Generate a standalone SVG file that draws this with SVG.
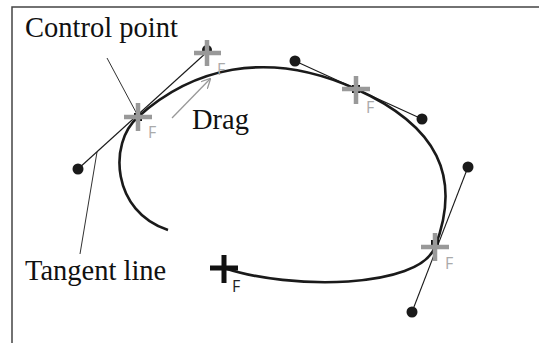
<svg xmlns="http://www.w3.org/2000/svg" width="539" height="343" viewBox="0 0 539 343">
<defs>
<style>
.frame{fill:none;stroke:#444;stroke-width:1.5}
.curve{fill:none;stroke:#1a1a1a;stroke-width:2.6}
.tan{fill:none;stroke:#1a1a1a;stroke-width:1.1}
.lead{fill:none;stroke:#1a1a1a;stroke-width:0.9}
.dot{fill:#1a1a1a}
.gx{stroke:#999;stroke-width:4.5;fill:none}
.bx{stroke:#111;stroke-width:5;fill:none}
.lbl{font-family:"Liberation Serif","Times New Roman",serif;font-size:28.5px;fill:#111}
.f{font-family:"Open Sans","DejaVu Sans",sans-serif;font-size:16px;fill:#aaa}
.fb{font-family:"Open Sans","DejaVu Sans",sans-serif;font-size:16px;fill:#222}
.drag{stroke:#999;stroke-width:1.3;fill:none}
</style>
<marker id="ah" viewBox="0 0 10 10" refX="9" refY="5" markerWidth="10" markerHeight="10" markerUnits="userSpaceOnUse" orient="auto">
<path d="M0,0 L10,5 L0,10" fill="none" stroke="#999" stroke-width="1.3"/>
</marker>
</defs>
<path class="frame" d="M12,343 V7 H539"/>
<g id="connectors">
<path class="curve" d="M168,230 C112,212 108,143 138,117 C190,70 265,47.5 356,89 C438,126 462,177 435,247 C419,289 290,290 224,268"/>
<line class="tan" x1="78" y1="169" x2="207" y2="52"/>
<line class="tan" x1="295" y1="61" x2="422" y2="119"/>
<line class="tan" x1="468" y1="167" x2="412" y2="312"/>
<line class="lead" x1="107" y1="58" x2="138" y2="116"/>
<line class="lead" x1="97" y1="152" x2="80" y2="254"/>
<line class="drag" x1="172" y1="118" x2="210" y2="79" marker-end="url(#ah)"/>
</g>
<g id="anchor1">
<rect x="134" y="113" width="8" height="8" fill="#111"/>
<path class="gx" d="M124,117 H152 M138,103 V131"/>
<text class="f" x="148" y="138">F</text>
</g>
<g id="ctrl1">
<circle class="dot" cx="207" cy="50" r="5"/>
<path class="gx" d="M194,53 H221 M207,40 V66"/>
<text class="f" x="217" y="75">F</text>
</g>
<g id="dot1"><circle class="dot" cx="78" cy="169" r="5.5"/></g>
<g id="anchor2">
<rect x="352" y="85" width="8" height="8" fill="#111"/>
<path class="gx" d="M342,89 H370 M356,76 V104"/>
<text class="f" x="366" y="113">F</text>
</g>
<g id="dot2"><circle class="dot" cx="295" cy="61" r="5.5"/></g>
<g id="dot3"><circle class="dot" cx="422" cy="119" r="5.5"/></g>
<g id="anchor3">
<rect x="431" y="240" width="8" height="8" fill="#111"/>
<path class="gx" d="M421,247 H449 M435,233 V261"/>
<text class="f" x="445" y="269">F</text>
</g>
<g id="dot4"><circle class="dot" cx="468" cy="167" r="5.5"/></g>
<g id="dot5"><circle class="dot" cx="412" cy="312" r="5.5"/></g>
<g id="endpoint">
<path class="bx" d="M210,268 H238 M224,255 V283"/>
<text class="fb" x="232" y="292">F</text>
</g>
<g id="labels">
<text class="lbl" x="25" y="37">Control point</text>
<text class="lbl" x="192" y="129">Drag</text>
<text class="lbl" x="25" y="280">Tangent line</text>
</g>
</svg>
